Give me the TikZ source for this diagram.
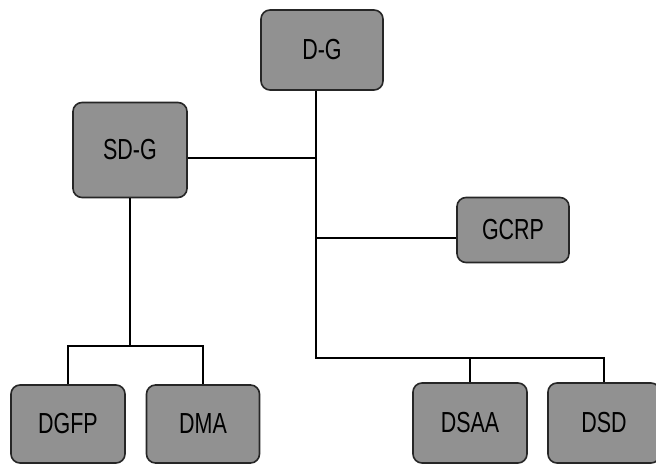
\documentclass[tikz,border=0pt]{standalone}
\usepackage{fontspec}
\setmainfont{Liberation Sans}[FakeStretch=0.74]
\usepackage{tikz}
\usetikzlibrary{calc,positioning}
\definecolor{boxgray}{gray}{0.57}
\begin{document}
\begin{tikzpicture}[x=1pt,y=1pt,
    unit/.style={draw=black!85, line width=1.6pt, rounded corners=9pt, fill=boxgray,
      inner sep=0pt, font=\fontsize{29}{32}\selectfont},
    link/.style={line width=1.3pt, black}]
  \useasboundingbox (0,0) rectangle (656,466);
  \node[unit, minimum width=122, minimum height=80] (DG) at (322,416) {D-G};
  \node[unit, minimum width=114, minimum height=95] (SDG) at (130,316) {SD-G};
  \node[unit, minimum width=112, minimum height=65] (GCRP) at (513,236) {GCRP};
  \node[unit, minimum width=114, minimum height=78] (DGFP) at (68,42) {DGFP};
  \node[unit, minimum width=113, minimum height=78] (DMA) at (203,42) {DMA};
  \node[unit, minimum width=114, minimum height=80] (DSAA) at (470,43) {DSAA};
  \node[unit, minimum width=112, minimum height=80] (DSD) at (604,43) {DSD};
  \coordinate (hub) at (316,108);
  \coordinate (split) at (130,120);
  \draw[link] ([xshift=-6pt]DG.south) -- (hub) -| (DSD.north);
  \draw[link] (DSAA.north) -- (DSAA.north |- hub);
  \draw[link] ([yshift=-8pt]SDG.east) -- ([yshift=-8pt]SDG.east -| hub);
  \draw[link] ([yshift=-8pt]GCRP.west) -- ([yshift=-8pt]GCRP.west -| hub);
  \draw[link] (SDG.south) -- (split);
  \draw[link] (DGFP.north) |- (split) -| (DMA.north);
\end{tikzpicture}
\end{document}
